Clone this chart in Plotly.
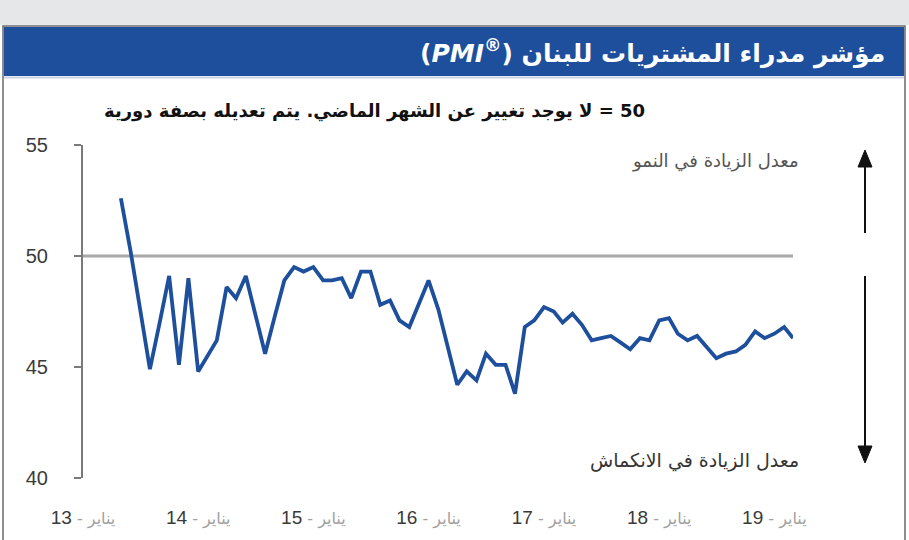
import pandas as pd
import plotly.graph_objects as go

# ---- data ----
pmi_values = [
    52.6, 50.2, 47.6, 44.9, 47.0, 49.1, 45.1, 49.0,           # May-Dec 2013
    44.8, 45.5, 46.2, 48.6, 48.1, 49.1, 47.4, 45.6, 47.3, 48.9, 49.5, 49.3,  # 2014
    49.5, 48.9, 48.9, 49.0, 48.1, 49.3, 49.3, 47.8, 48.0, 47.1, 46.8, 47.8,  # 2015
    48.9, 47.6, 45.9, 44.2, 44.8, 44.4, 45.6, 45.1, 45.1, 43.8, 46.8, 47.1,  # 2016
    47.7, 47.5, 47.0, 47.4, 46.9, 46.2, 46.3, 46.4, 46.1, 45.8, 46.3, 46.2,  # 2017
    47.1, 47.2, 46.5, 46.2, 46.4, 45.9, 45.4, 45.6, 45.7, 46.0, 46.6, 46.3,  # 2018
    46.5, 46.8, 46.3,                                          # Jan-Mar 2019
]
months = pd.date_range("2013-05-01", periods=len(pmi_values), freq="MS")

tick_years = ["13", "14", "15", "16", "17", "18", "19"]
tick_dates = [f"20{y}-01-01" for y in tick_years]
tick_month_word = "يناير"
y_ticks = [40, 45, 50, 55]
neutral_level = 50

title_ar = "مؤشر مدراء المشتريات للبنان"
subtitle = "\u202B50 = لا يوجد تغيير عن الشهر الماضي. يتم تعديله بصفة دورية\u202C"
growth_label = "معدل الزيادة في النمو"
contraction_label = "معدل الزيادة في الانكماش"

# ---- layout geometry (pixels) ----
W, H = 909, 540
L, R = 83, 793
T, B = 145, 478

def px(x):
    return (x - L) / (R - L)

def py(y):
    return (B - y) / (B - T)

FONT = "Liberation Sans, Arial, DejaVu Sans, sans-serif"
AR_FONT = "DejaVu Sans, Liberation Sans, sans-serif"
BLUE = "#1d4f9c"

ticktext = [
    f"<span style='color:#3a3a3a'>{y}</span><span style='font-family:DejaVu Sans;font-size:16px;color:#a0a0a0'> - {tick_month_word}</span>"
    for y in tick_years
]

fig = go.Figure()
fig.add_trace(go.Scatter(
    x=months, y=pmi_values, mode="lines",
    line=dict(color=BLUE, width=3.8), hoverinfo="skip", showlegend=False,
))

def arrow_shapes(x, y_tail, y_head, half_w=7, head_len=17):
    d = -1 if y_head < y_tail else 1
    base = y_head - d * head_len
    return [
        dict(type="line", xref="paper", yref="paper", x0=px(x), x1=px(x), y0=py(y_tail), y1=py(base),
             line=dict(color="#111111", width=2)),
        dict(type="path", xref="paper", yref="paper",
             path=f"M {px(x - half_w)} {py(base)} L {px(x + half_w)} {py(base)} L {px(x)} {py(y_head)} Z",
             fillcolor="#111111", line=dict(color="#111111", width=1)),
    ]

shapes = [
    dict(type="rect", xref="paper", yref="paper", x0=px(-5), x1=px(915), y0=py(25), y1=py(-5),
         fillcolor="#e6e7e9", line=dict(width=0), layer="below"),
    dict(type="rect", xref="paper", yref="paper", x0=px(3), x1=px(905), y0=py(560), y1=py(26),
         fillcolor="rgba(0,0,0,0)", line=dict(color="#6b6b6b", width=1.5), layer="above"),
    dict(type="rect", xref="paper", yref="paper", x0=px(3.8), x1=px(904.2), y0=py(76), y1=py(27),
         fillcolor=BLUE, line=dict(width=0), layer="below"),
    dict(type="line", xref="paper", yref="paper", x0=px(3.8), x1=px(904.2), y0=py(77.5), y1=py(77.5),
         line=dict(color="#c9d2e3", width=2), layer="below"),
    dict(type="line", xref="paper", yref="y", x0=0, x1=1, y0=neutral_level, y1=neutral_level,
         line=dict(color="#a8a8a8", width=3), layer="below"),
]
shapes += arrow_shapes(865, 233, 150)
shapes += arrow_shapes(865, 276, 463)

annotations = [
    dict(xref="paper", yref="paper", x=px(887), y=py(52), xanchor="right", yanchor="middle",
         text=f"<b>(<i>PMI<sup>®</sup></i>) {title_ar}</b>", showarrow=False,
         font=dict(family=AR_FONT, size=25, color="white")),
    dict(xref="paper", yref="paper", x=px(647), y=py(111), xanchor="right", yanchor="middle",
         text=f"<b>{subtitle}</b>", showarrow=False,
         font=dict(family=AR_FONT, size=18, color="#111111")),
    dict(xref="paper", yref="paper", x=px(801), y=py(161), xanchor="right", yanchor="middle",
         text=growth_label, showarrow=False,
         font=dict(family=AR_FONT, size=18, color="#555555")),
    dict(xref="paper", yref="paper", x=px(801), y=py(460), xanchor="right", yanchor="middle",
         text=contraction_label, showarrow=False,
         font=dict(family=AR_FONT, size=19, color="#333333")),
]

fig.update_layout(
    width=W, height=H,
    margin=dict(l=L, r=W - R, t=T, b=H - B, pad=0),
    paper_bgcolor="white", plot_bgcolor="white",
    font=dict(family=FONT),
    shapes=shapes, annotations=annotations,
    xaxis=dict(
        type="date", range=["2013-01-01", "2019-03-01"],
        tickvals=tick_dates, ticktext=ticktext, ticks="", showgrid=False,
        zeroline=False, showline=False, ticklabelstandoff=26,
        tickfont=dict(family=FONT, size=19, color="#3a3a3a"),
    ),
    yaxis=dict(
        range=[40, 55], tickvals=y_ticks, showgrid=False, zeroline=False,
        showline=True, linecolor="#7a7a7a", linewidth=2,
        ticks="outside", ticklen=7, tickwidth=2, tickcolor="#7a7a7a",
        ticklabelstandoff=22,
        tickfont=dict(family=FONT, size=20, color="#3a3a3a"),
    ),
)

fig.write_html("out.html", config={"displayModeBar": False},
               post_script="document.body.style.margin='0';")
